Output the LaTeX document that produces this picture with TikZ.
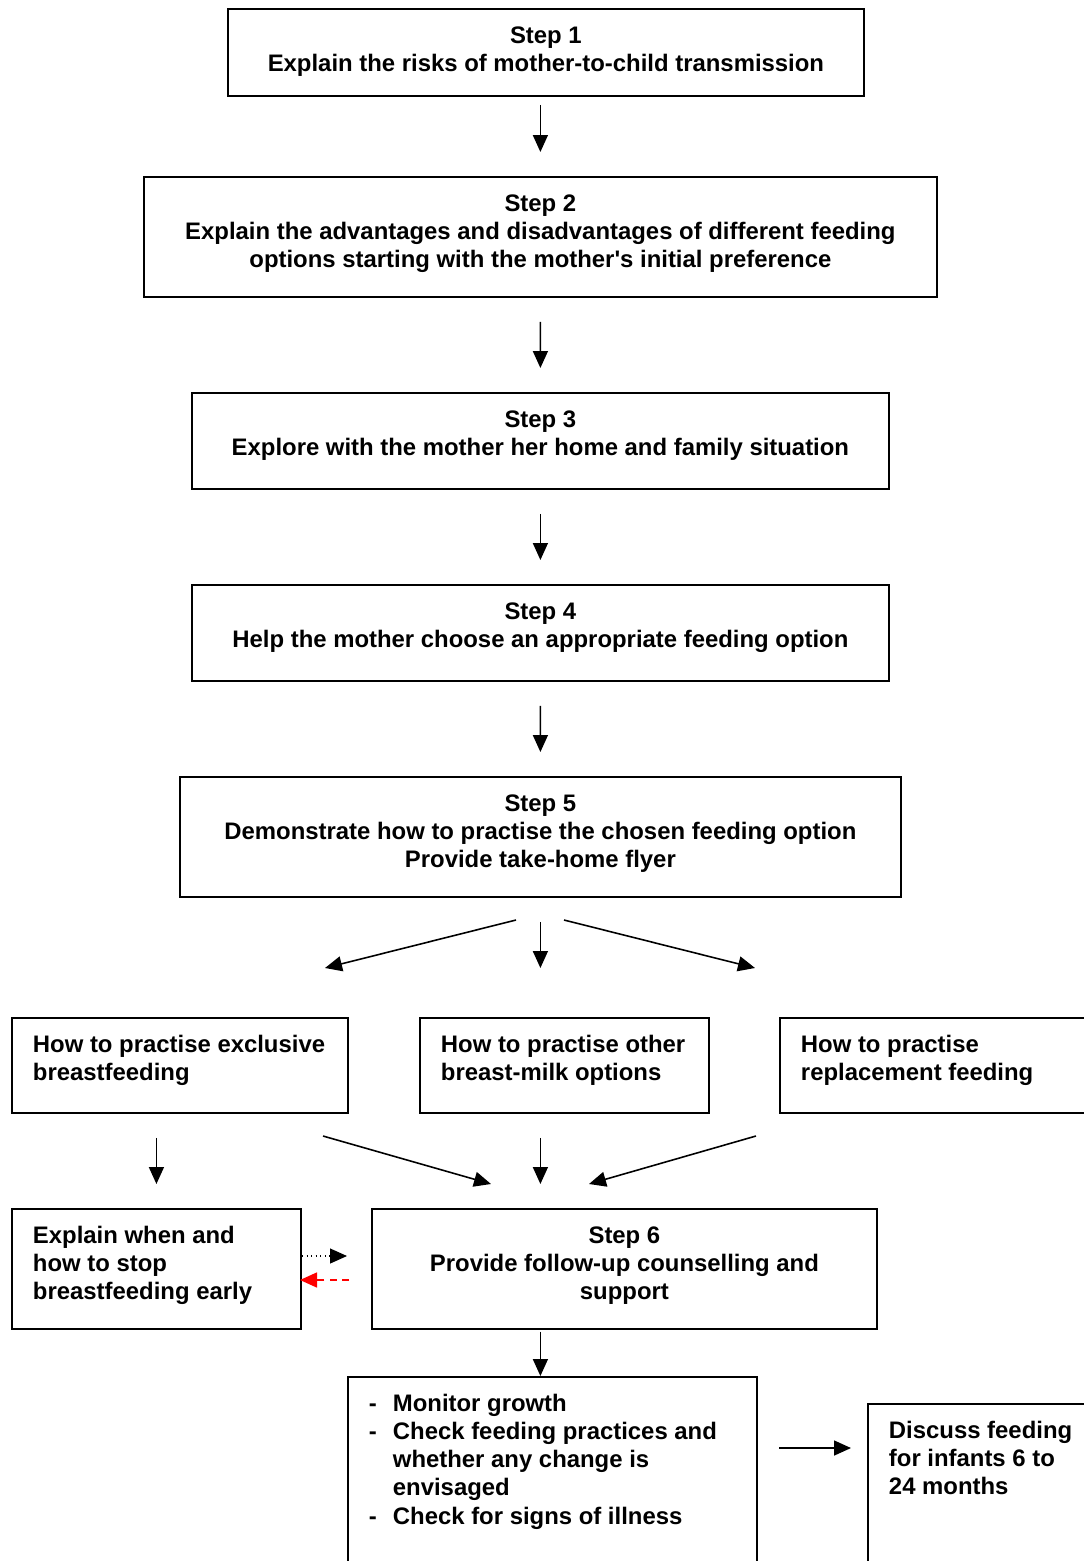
\documentclass[tikz,border=0pt]{standalone}
\usepackage{fontspec}
\setmainfont{Liberation Sans}
\usetikzlibrary{arrows.meta}
% box texts sit at the top of their box
\newcommand{\steptext}[3]{\parbox[t][#1][t]{#2}{\centering\strut#3}}
\newcommand{\lefttext}[3]{\parbox[t][#1][t]{#2}{\raggedright\strut#3}}
\begin{document}
\begin{tikzpicture}[x=0.02cm, y=-0.02cm,
  font=\fontsize{13.6}{16}\selectfont\bfseries,
  box/.style={draw, line width=1.1pt, anchor=north west, inner xsep=0pt, inner ysep=0.3cm},
  leftbox/.style={box, inner xsep=0.42cm},
  arr/.style={line width=0.9pt, -{Triangle[length=0.34cm, width=0.3cm]},
    shorten <=0.48cm, shorten >=0.48cm}]
\useasboundingbox (0,0) rectangle (1084,1561);
\clip (0,0) rectangle (1084,1561);
\node[box] (s1) at (227,8)
  {\steptext{1.14cm}{12.72cm}{Step 1\\Explain the risks of mother-to-child transmission}};
\node[box] (s2) at (143,176)
  {\steptext{1.8cm}{15.86cm}{Step 2\\Explain the advantages and disadvantages of different feeding\\options starting with the mother\textquotesingle s initial preference}};
\node[box] (s3) at (191,392)
  {\steptext{1.32cm}{13.94cm}{Step 3\\Explore with the mother her home and family situation}};
\node[box] (s4) at (191,584)
  {\steptext{1.32cm}{13.94cm}{Step 4\\Help the mother choose an appropriate feeding option}};
\node[box] (s5) at (179,776)
  {\steptext{1.8cm}{14.42cm}{Step 5\\Demonstrate how to practise the chosen feeding option\\Provide take-home flyer}};
\node[leftbox] (ebf) at (11,1017)
  {\lefttext{1.3cm}{5.88cm}{\mbox{How to practise exclusive}\\breastfeeding}};
\node[leftbox] (bmo) at (419,1017)
  {\lefttext{1.3cm}{4.94cm}{How to practise other\\breast-milk options}};
\node[leftbox] (rf) at (779,1017)
  {\lefttext{1.3cm}{5.76cm}{How to practise\\replacement feeding}};
\node[leftbox] (stop) at (11,1208)
  {\lefttext{1.8cm}{4.94cm}{Explain when and\\how to stop\\breastfeeding early}};
\node[box] (s6) at (371,1208)
  {\steptext{1.8cm}{10.1cm}{Step 6\\Provide follow-up counselling and\\support}};
\node[leftbox] (mon) at (347,1376)
  {\parbox[t][4cm][t]{7.34cm}{\begin{tabular}{@{}l@{\hspace{0.32cm}}l@{}}
    - & Monitor growth\\
    - & Check feeding practices and\\
      & whether any change is\\
      & envisaged\\
    - & Check for signs of illness
  \end{tabular}}};
\node[leftbox] (inf) at (867,1403)
  {\lefttext{4cm}{4.16cm}{Discuss feeding\\for infants 6 to\\24 months}};
% free arrow ends
\coordinate (fanL) at (516,920);
\coordinate (fanR) at (564,920);
\coordinate (toebf) at (325,968);
\coordinate (torf) at (755,968);
\coordinate (fromebf) at (323,1136);
\coordinate (fromrf) at (756,1136);
\coordinate (sixL) at (491,1184);
\coordinate (sixR) at (589,1184);
\coordinate (goon) at (779,1448);
\coordinate (goonend) at (851,1448);
\coordinate (dotA) at (302,1256);
\coordinate (dotB) at (347,1256);
\coordinate (backA) at (349,1280);
\coordinate (backB) at (300,1280);
\path[arr]
(s1.south -| s2.north) edge[shorten <=0.16cm] (s2.north)
(s2) edge (s3)
(s3) edge (s4)
(s4) edge (s5)
(s5.south) edge[shorten >=0.98cm] (s5.south |- bmo.north)
(ebf.south -| stop.north) edge (stop.north)
(s5.south |- bmo.south) edge (s5.south |- s6.north)
(s5.south |- s6.south) edge[shorten <=1pt, shorten >=0pt] (s5.south |- mon.north);
\path[arr, shorten <=0pt, shorten >=0pt]
(fanL) edge (toebf)
(fanR) edge (torf)
(fromebf) edge (sixL)
(fromrf) edge (sixR)
(goon) edge (goonend)
(dotA) edge[line width=0.6pt, dotted] (dotB)
(backA) edge[red, dash pattern=on 4pt off 3pt] (backB);
\end{tikzpicture}
\end{document}
